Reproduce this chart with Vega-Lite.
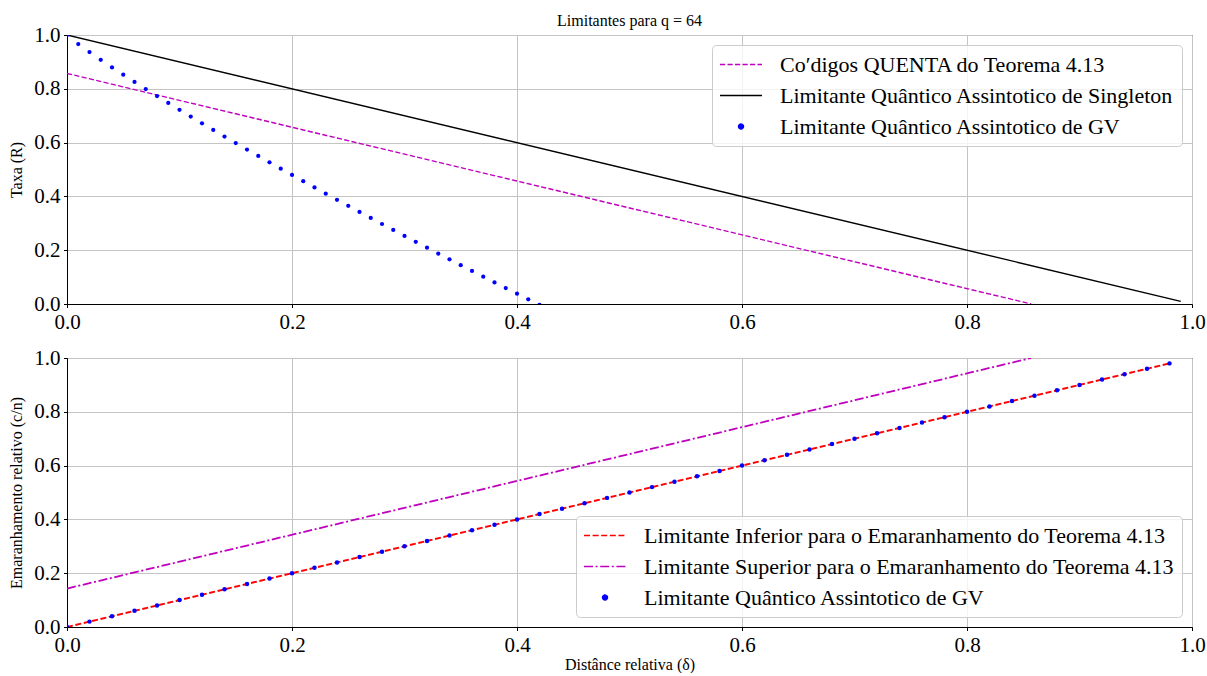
{
  "$schema": "https://vega.github.io/schema/vega-lite/v6.json",
  "padding": {"left": 8, "top": 12, "right": 0, "bottom": 0},
  "background": "white",
  "datasets": {
    "topQ": [
      {"d": 0, "v": 0.8571, "s": "Co′digos QUENTA do Teorema 4.13"},
      {"d": 0.8571, "v": 0, "s": "Co′digos QUENTA do Teorema 4.13"}
    ],
    "topS": [
      {"d": 0, "v": 1, "s": "Limitante Quântico Assintotico de Singleton"},
      {"d": 0.99, "v": 0.01, "s": "Limitante Quântico Assintotico de Singleton"}
    ],
    "topGV": [
      {"d": 0.00, "v": 1.0, "s": "Limitante Quântico Assintotico de GV"},
      {"d": 0.01, "v": 0.9665, "s": "Limitante Quântico Assintotico de GV"},
      {"d": 0.02, "v": 0.9364, "s": "Limitante Quântico Assintotico de GV"},
      {"d": 0.03, "v": 0.9076, "s": "Limitante Quântico Assintotico de GV"},
      {"d": 0.04, "v": 0.8796, "s": "Limitante Quântico Assintotico de GV"},
      {"d": 0.05, "v": 0.8523, "s": "Limitante Quântico Assintotico de GV"},
      {"d": 0.06, "v": 0.8254, "s": "Limitante Quântico Assintotico de GV"},
      {"d": 0.07, "v": 0.7990, "s": "Limitante Quântico Assintotico de GV"},
      {"d": 0.08, "v": 0.7730, "s": "Limitante Quântico Assintotico de GV"},
      {"d": 0.09, "v": 0.7473, "s": "Limitante Quântico Assintotico de GV"},
      {"d": 0.10, "v": 0.7218, "s": "Limitante Quântico Assintotico de GV"},
      {"d": 0.11, "v": 0.6967, "s": "Limitante Quântico Assintotico de GV"},
      {"d": 0.12, "v": 0.6718, "s": "Limitante Quântico Assintotico de GV"},
      {"d": 0.13, "v": 0.6471, "s": "Limitante Quântico Assintotico de GV"},
      {"d": 0.14, "v": 0.6226, "s": "Limitante Quântico Assintotico de GV"},
      {"d": 0.15, "v": 0.5984, "s": "Limitante Quântico Assintotico de GV"},
      {"d": 0.16, "v": 0.5743, "s": "Limitante Quântico Assintotico de GV"},
      {"d": 0.17, "v": 0.5504, "s": "Limitante Quântico Assintotico de GV"},
      {"d": 0.18, "v": 0.5267, "s": "Limitante Quântico Assintotico de GV"},
      {"d": 0.19, "v": 0.5031, "s": "Limitante Quântico Assintotico de GV"},
      {"d": 0.20, "v": 0.4797, "s": "Limitante Quântico Assintotico de GV"},
      {"d": 0.21, "v": 0.4564, "s": "Limitante Quântico Assintotico de GV"},
      {"d": 0.22, "v": 0.4333, "s": "Limitante Quântico Assintotico de GV"},
      {"d": 0.23, "v": 0.4103, "s": "Limitante Quântico Assintotico de GV"},
      {"d": 0.24, "v": 0.3875, "s": "Limitante Quântico Assintotico de GV"},
      {"d": 0.25, "v": 0.3648, "s": "Limitante Quântico Assintotico de GV"},
      {"d": 0.26, "v": 0.3422, "s": "Limitante Quântico Assintotico de GV"},
      {"d": 0.27, "v": 0.3198, "s": "Limitante Quântico Assintotico de GV"},
      {"d": 0.28, "v": 0.2974, "s": "Limitante Quântico Assintotico de GV"},
      {"d": 0.29, "v": 0.2752, "s": "Limitante Quântico Assintotico de GV"},
      {"d": 0.30, "v": 0.2531, "s": "Limitante Quântico Assintotico de GV"},
      {"d": 0.31, "v": 0.2311, "s": "Limitante Quântico Assintotico de GV"},
      {"d": 0.32, "v": 0.2093, "s": "Limitante Quântico Assintotico de GV"},
      {"d": 0.33, "v": 0.1875, "s": "Limitante Quântico Assintotico de GV"},
      {"d": 0.34, "v": 0.1659, "s": "Limitante Quântico Assintotico de GV"},
      {"d": 0.35, "v": 0.1443, "s": "Limitante Quântico Assintotico de GV"},
      {"d": 0.36, "v": 0.1229, "s": "Limitante Quântico Assintotico de GV"},
      {"d": 0.37, "v": 0.1016, "s": "Limitante Quântico Assintotico de GV"},
      {"d": 0.38, "v": 0.0803, "s": "Limitante Quântico Assintotico de GV"},
      {"d": 0.39, "v": 0.0592, "s": "Limitante Quântico Assintotico de GV"},
      {"d": 0.40, "v": 0.0382, "s": "Limitante Quântico Assintotico de GV"},
      {"d": 0.41, "v": 0.0172, "s": "Limitante Quântico Assintotico de GV"},
      {"d": 0.42, "v": -0.0036, "s": "Limitante Quântico Assintotico de GV"}
    ],
    "botI": [
      {"d": 0, "v": 0, "s": "Limitante Inferior para o Emaranhamento do Teorema 4.13"},
      {"d": 0.98, "v": 0.98, "s": "Limitante Inferior para o Emaranhamento do Teorema 4.13"}
    ],
    "botU": [
      {"d": 0, "v": 0.1429, "s": "Limitante Superior para o Emaranhamento do Teorema 4.13"},
      {"d": 0.8571, "v": 1.0, "s": "Limitante Superior para o Emaranhamento do Teorema 4.13"}
    ],
    "botGV": [
      {"d": 0.00, "v": 0.00, "s": "Limitante Quântico Assintotico de GV"},
      {"d": 0.02, "v": 0.02, "s": "Limitante Quântico Assintotico de GV"},
      {"d": 0.04, "v": 0.04, "s": "Limitante Quântico Assintotico de GV"},
      {"d": 0.06, "v": 0.06, "s": "Limitante Quântico Assintotico de GV"},
      {"d": 0.08, "v": 0.08, "s": "Limitante Quântico Assintotico de GV"},
      {"d": 0.10, "v": 0.10, "s": "Limitante Quântico Assintotico de GV"},
      {"d": 0.12, "v": 0.12, "s": "Limitante Quântico Assintotico de GV"},
      {"d": 0.14, "v": 0.14, "s": "Limitante Quântico Assintotico de GV"},
      {"d": 0.16, "v": 0.16, "s": "Limitante Quântico Assintotico de GV"},
      {"d": 0.18, "v": 0.18, "s": "Limitante Quântico Assintotico de GV"},
      {"d": 0.20, "v": 0.20, "s": "Limitante Quântico Assintotico de GV"},
      {"d": 0.22, "v": 0.22, "s": "Limitante Quântico Assintotico de GV"},
      {"d": 0.24, "v": 0.24, "s": "Limitante Quântico Assintotico de GV"},
      {"d": 0.26, "v": 0.26, "s": "Limitante Quântico Assintotico de GV"},
      {"d": 0.28, "v": 0.28, "s": "Limitante Quântico Assintotico de GV"},
      {"d": 0.30, "v": 0.30, "s": "Limitante Quântico Assintotico de GV"},
      {"d": 0.32, "v": 0.32, "s": "Limitante Quântico Assintotico de GV"},
      {"d": 0.34, "v": 0.34, "s": "Limitante Quântico Assintotico de GV"},
      {"d": 0.36, "v": 0.36, "s": "Limitante Quântico Assintotico de GV"},
      {"d": 0.38, "v": 0.38, "s": "Limitante Quântico Assintotico de GV"},
      {"d": 0.40, "v": 0.40, "s": "Limitante Quântico Assintotico de GV"},
      {"d": 0.42, "v": 0.42, "s": "Limitante Quântico Assintotico de GV"},
      {"d": 0.44, "v": 0.44, "s": "Limitante Quântico Assintotico de GV"},
      {"d": 0.46, "v": 0.46, "s": "Limitante Quântico Assintotico de GV"},
      {"d": 0.48, "v": 0.48, "s": "Limitante Quântico Assintotico de GV"},
      {"d": 0.50, "v": 0.50, "s": "Limitante Quântico Assintotico de GV"},
      {"d": 0.52, "v": 0.52, "s": "Limitante Quântico Assintotico de GV"},
      {"d": 0.54, "v": 0.54, "s": "Limitante Quântico Assintotico de GV"},
      {"d": 0.56, "v": 0.56, "s": "Limitante Quântico Assintotico de GV"},
      {"d": 0.58, "v": 0.58, "s": "Limitante Quântico Assintotico de GV"},
      {"d": 0.60, "v": 0.60, "s": "Limitante Quântico Assintotico de GV"},
      {"d": 0.62, "v": 0.62, "s": "Limitante Quântico Assintotico de GV"},
      {"d": 0.64, "v": 0.64, "s": "Limitante Quântico Assintotico de GV"},
      {"d": 0.66, "v": 0.66, "s": "Limitante Quântico Assintotico de GV"},
      {"d": 0.68, "v": 0.68, "s": "Limitante Quântico Assintotico de GV"},
      {"d": 0.70, "v": 0.70, "s": "Limitante Quântico Assintotico de GV"},
      {"d": 0.72, "v": 0.72, "s": "Limitante Quântico Assintotico de GV"},
      {"d": 0.74, "v": 0.74, "s": "Limitante Quântico Assintotico de GV"},
      {"d": 0.76, "v": 0.76, "s": "Limitante Quântico Assintotico de GV"},
      {"d": 0.78, "v": 0.78, "s": "Limitante Quântico Assintotico de GV"},
      {"d": 0.80, "v": 0.80, "s": "Limitante Quântico Assintotico de GV"},
      {"d": 0.82, "v": 0.82, "s": "Limitante Quântico Assintotico de GV"},
      {"d": 0.84, "v": 0.84, "s": "Limitante Quântico Assintotico de GV"},
      {"d": 0.86, "v": 0.86, "s": "Limitante Quântico Assintotico de GV"},
      {"d": 0.88, "v": 0.88, "s": "Limitante Quântico Assintotico de GV"},
      {"d": 0.90, "v": 0.90, "s": "Limitante Quântico Assintotico de GV"},
      {"d": 0.92, "v": 0.92, "s": "Limitante Quântico Assintotico de GV"},
      {"d": 0.94, "v": 0.94, "s": "Limitante Quântico Assintotico de GV"},
      {"d": 0.96, "v": 0.96, "s": "Limitante Quântico Assintotico de GV"},
      {"d": 0.98, "v": 0.98, "s": "Limitante Quântico Assintotico de GV"}
    ]
  },
  "config": {
    "font": "Liberation Serif",
    "view": {"stroke": "black", "strokeWidth": 1},
    "axis": {
      "grid": true, "gridColor": "#c4c4c4", "gridWidth": 1,
      "domainColor": "black", "domainWidth": 1,
      "tickColor": "black", "tickSize": 3.5, "tickWidth": 1,
      "labelFont": "Liberation Serif", "labelFontSize": 21, "labelColor": "black",
      "labelPadding": 3.5, "labelFlush": false, "labelOverlap": false,
      "titleFont": "Liberation Serif", "titleFontSize": 16, "titleFontWeight": "normal", "titleColor": "black"
    },
    "legend": {
      "labelFont": "Liberation Serif", "labelFontSize": 22, "labelColor": "black", "labelLimit": 0,
      "padding": 8, "rowPadding": 8, "offset": 10,
      "fillColor": "rgba(255,255,255,0.8)", "strokeColor": "#cccccc", "cornerRadius": 4,
      "symbolSize": 441, "symbolStrokeWidth": 1.4, "labelOffset": 37
    }
  },
  "vconcat": [
    {
      "width": 1125, "height": 269,
      "title": {"text": "Limitantes para q = 64", "font": "Liberation Serif", "fontSize": 16, "fontWeight": "normal", "color": "black", "anchor": "middle", "frame": "group", "offset": -5},
      "encoding": {
        "x": {"field": "d", "type": "quantitative", "scale": {"domain": [0, 1], "nice": false}, "axis": {"values": [0, 0.2, 0.4, 0.6, 0.8, 1], "format": ".1f", "title": null}},
        "y": {"field": "v", "type": "quantitative", "scale": {"domain": [0, 1], "nice": false}, "axis": {"values": [0, 0.2, 0.4, 0.6, 0.8, 1], "format": ".1f", "title": "Taxa (R)", "titlePadding": 9}},
        "color": {
          "field": "s", "type": "nominal",
          "scale": {"domain": ["Co′digos QUENTA do Teorema 4.13", "Limitante Quântico Assintotico de Singleton", "Limitante Quântico Assintotico de GV"], "range": ["#bf00bf", "black", "blue"]},
          "legend": {
            "title": null, "orient": "top-right",
            "encode": {
              "symbols": {
                "update": {
                  "shape": {"signal": "datum.index == 2 ? 'M1.143,0A0.238,0.238,0,1,1,0.667,0A0.238,0.238,0,1,1,1.143,0Z' : 'M-1.095,0L2.905,0'"},
                  "size": {"value": 441},
                  "strokeDash": {"signal": "datum.index == 0 ? [5.2, 2.3] : [1, 0]"},
                  "stroke": {"signal": "datum.index == 0 ? '#bf00bf' : datum.index == 1 ? 'black' : 'blue'"},
                  "fill": {"signal": "datum.index == 2 ? 'blue' : 'transparent'"},
                  "opacity": {"value": 1}
                }
              }
            }
          }
        }
      },
      "layer": [
        {"data": {"name": "topQ"}, "mark": {"type": "line", "strokeWidth": 1.4, "strokeDash": [5.2, 2.3], "clip": true}},
        {"data": {"name": "topS"}, "mark": {"type": "line", "strokeWidth": 1.4, "clip": true}},
        {"data": {"name": "topGV"}, "mark": {"type": "point", "filled": true, "size": 18, "opacity": 1, "clip": true}}
      ]
    },
    {
      "width": 1125, "height": 269,
      "encoding": {
        "x": {"field": "d", "type": "quantitative", "scale": {"domain": [0, 1], "nice": false}, "axis": {"values": [0, 0.2, 0.4, 0.6, 0.8, 1], "format": ".1f", "title": "Distânce relativa (δ)", "titlePadding": 1}},
        "y": {"field": "v", "type": "quantitative", "scale": {"domain": [0, 1], "nice": false}, "axis": {"values": [0, 0.2, 0.4, 0.6, 0.8, 1], "format": ".1f", "title": "Emaranhamento relativo (c/n)", "titlePadding": 9}},
        "color": {
          "field": "s", "type": "nominal",
          "scale": {"domain": ["Limitante Inferior para o Emaranhamento do Teorema 4.13", "Limitante Superior para o Emaranhamento do Teorema 4.13", "Limitante Quântico Assintotico de GV"], "range": ["red", "#bf00bf", "blue"]},
          "legend": {
            "title": null, "orient": "bottom-right",
            "encode": {
              "symbols": {
                "update": {
                  "shape": {"signal": "datum.index == 2 ? 'M1.143,0A0.238,0.238,0,1,1,0.667,0A0.238,0.238,0,1,1,1.143,0Z' : 'M-1.095,0L2.905,0'"},
                  "size": {"value": 441},
                  "strokeDash": {"signal": "datum.index == 0 ? [6, 2.6] : datum.index == 1 ? [9, 2.6, 2, 2.6] : [1, 0]"},
                  "stroke": {"signal": "datum.index == 0 ? 'red' : datum.index == 1 ? '#bf00bf' : 'blue'"},
                  "fill": {"signal": "datum.index == 2 ? 'blue' : 'transparent'"},
                  "opacity": {"value": 1}
                }
              }
            }
          }
        }
      },
      "layer": [
        {"data": {"name": "botI"}, "mark": {"type": "line", "strokeWidth": 1.9, "strokeDash": [6, 2.6], "clip": true}},
        {"data": {"name": "botU"}, "mark": {"type": "line", "strokeWidth": 1.8, "strokeDash": [9, 2.6, 2, 2.6], "clip": true}},
        {"data": {"name": "botGV"}, "mark": {"type": "point", "filled": true, "size": 20, "opacity": 1, "clip": true}}
      ]
    }
  ],
  "spacing": 54,
  "bounds": "flush",
  "resolve": {"scale": {"color": "independent"}, "legend": {"color": "independent"}}
}
